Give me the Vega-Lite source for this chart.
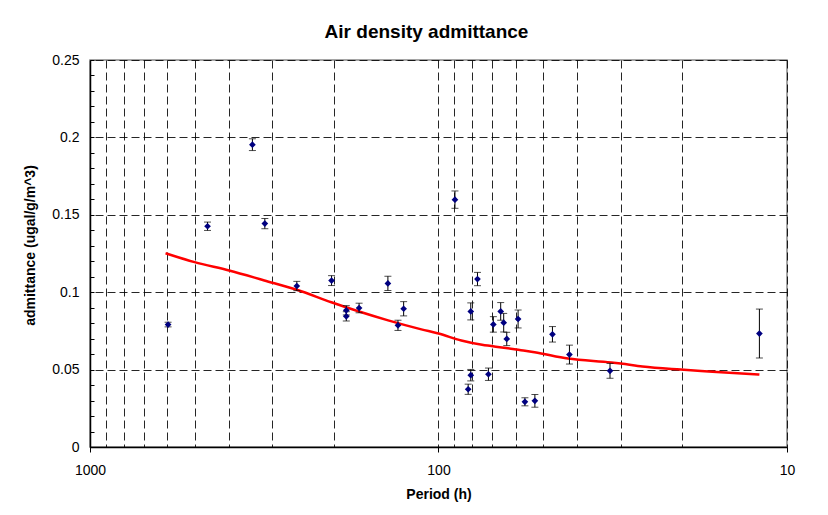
{
  "$schema": "https://vega.github.io/schema/vega-lite/v6.json",
  "autosize": {"type": "none"},
  "width": 697,
  "height": 387,
  "padding": {"left": 90, "top": 60, "right": 41, "bottom": 68},
  "background": "white",
  "config": {
    "font": "Liberation Sans",
    "view": {"stroke": "#888888", "strokeWidth": 1.5}
  },
  "title": {
    "text": "Air density admittance",
    "fontSize": 19,
    "fontWeight": "bold",
    "font": "Liberation Sans",
    "color": "black",
    "anchor": "middle",
    "frame": "group",
    "baseline": "alphabetic",
    "offset": 23,
    "dy": 27,
    "dx": -12
  },
  "datasets": {
    "pts": [
      {"period": 597, "adm": 0.0791, "err": 0.0015},
      {"period": 460, "adm": 0.1426, "err": 0.0027},
      {"period": 342, "adm": 0.1953, "err": 0.0038},
      {"period": 315, "adm": 0.1443, "err": 0.0033},
      {"period": 255, "adm": 0.1040, "err": 0.0030},
      {"period": 202.7, "adm": 0.1075, "err": 0.0032},
      {"period": 183.9, "adm": 0.0883, "err": 0.0030},
      {"period": 183.9, "adm": 0.0844, "err": 0.0030},
      {"period": 169.0, "adm": 0.0898, "err": 0.0031},
      {"period": 139.7, "adm": 0.1057, "err": 0.0046},
      {"period": 130.7, "adm": 0.0786, "err": 0.0033},
      {"period": 125.9, "adm": 0.0893, "err": 0.0046},
      {"period": 89.7, "adm": 0.1598, "err": 0.0056},
      {"period": 82.2, "adm": 0.0373, "err": 0.0033},
      {"period": 80.8, "adm": 0.0876, "err": 0.0055},
      {"period": 80.8, "adm": 0.0464, "err": 0.0037},
      {"period": 77.3, "adm": 0.1085, "err": 0.0043},
      {"period": 71.9, "adm": 0.0470, "err": 0.0040},
      {"period": 69.6, "adm": 0.0792, "err": 0.0050},
      {"period": 66.3, "adm": 0.0876, "err": 0.0057},
      {"period": 65.0, "adm": 0.0803, "err": 0.0060},
      {"period": 63.7, "adm": 0.0698, "err": 0.0043},
      {"period": 59.1, "adm": 0.0827, "err": 0.0058},
      {"period": 56.5, "adm": 0.0292, "err": 0.0026},
      {"period": 52.9, "adm": 0.0298, "err": 0.0041},
      {"period": 47.1, "adm": 0.0728, "err": 0.0050},
      {"period": 42.1, "adm": 0.0597, "err": 0.0061},
      {"period": 32.2, "adm": 0.0492, "err": 0.0048},
      {"period": 12.0, "adm": 0.0733, "err": 0.0158}
    ],
    "fit": [
      {"period": 607, "adm": 0.1252},
      {"period": 501, "adm": 0.1194},
      {"period": 399, "adm": 0.1140},
      {"period": 316, "adm": 0.1076},
      {"period": 255, "adm": 0.1016},
      {"period": 203, "adm": 0.0935},
      {"period": 169, "adm": 0.0875},
      {"period": 139.5, "adm": 0.0818},
      {"period": 112, "adm": 0.0760},
      {"period": 100, "adm": 0.0733},
      {"period": 86, "adm": 0.0688},
      {"period": 75, "adm": 0.0660},
      {"period": 64, "adm": 0.0640},
      {"period": 58, "adm": 0.0625},
      {"period": 53, "adm": 0.0612},
      {"period": 42.5, "adm": 0.0571},
      {"period": 32, "adm": 0.0546},
      {"period": 30, "adm": 0.0539},
      {"period": 26, "adm": 0.0520},
      {"period": 20.2, "adm": 0.0500},
      {"period": 16.8, "adm": 0.0488},
      {"period": 12, "adm": 0.0468}
    ]
  },
  "encoding": {
    "x": {
      "field": "period",
      "type": "quantitative",
      "scale": {"type": "log", "domain": [10, 1000], "reverse": true, "nice": false},
      "axis": {
        "title": "Period (h)",
        "titleFontSize": 14,
        "titleFontWeight": "bold",
        "titleColor": "black",
        "titleBaseline": "alphabetic",
        "titleY": 51,
        "values": [10, 20, 30, 40, 50, 60, 70, 80, 90, 100, 200, 300, 400, 500, 600, 700, 800, 900, 1000],
        "labelExpr": "datum.value == 10 || datum.value == 100 || datum.value == 1000 ? toString(datum.value) : ''",
        "labelFontSize": 14,
        "labelColor": "black",
        "labelPadding": 11,
        "labelFlush": false,
        "labelOverlap": false,
        "tickSize": 5,
        "tickColor": {"condition": {"test": "datum.value == 10 || datum.value == 100 || datum.value == 1000", "value": "black"}, "value": "transparent"},
        "domainColor": "black",
        "domainWidth": 1.5,
        "grid": true,
        "gridColor": "black",
        "gridDash": [8, 4],
        "gridWidth": 1,
        "gridOpacity": 0.85
      }
    },
    "y": {
      "field": "adm",
      "type": "quantitative",
      "scale": {"domain": [0, 0.25], "nice": false, "zero": true},
      "axis": {
        "title": "admittance (ugal/g/m^3)",
        "titleFontSize": 14,
        "titleFontWeight": "bold",
        "titleColor": "black",
        "titleBaseline": "alphabetic",
        "titleX": -55.5,
        "titleY": 185,
        "values": [0, 0.01, 0.02, 0.03, 0.04, 0.05, 0.06, 0.07, 0.08, 0.09, 0.1, 0.11, 0.12, 0.13, 0.14, 0.15, 0.16, 0.17, 0.18, 0.19, 0.2, 0.21, 0.22, 0.23, 0.24, 0.25],
        "labelExpr": "indexof([0, 0.05, 0.1, 0.15, 0.2, 0.25], datum.value) >= 0 ? toString(datum.value) : ''",
        "labelFontSize": 14,
        "labelColor": "black",
        "labelPadding": 15,
        "labelFlush": false,
        "labelOverlap": false,
        "tickSize": -4,
        "tickColor": "black",
        "domainColor": "black",
        "domainWidth": 1.5,
        "grid": true,
        "gridColor": "black",
        "gridDash": [8, 4],
        "gridWidth": 1,
        "gridOpacity": {"condition": {"test": "indexof([0, 0.05, 0.1, 0.15, 0.2, 0.25], datum.value) >= 0", "value": 0.85}, "value": 0}
      }
    }
  },
  "layer": [
    {
      "data": {"name": "fit"},
      "mark": {"type": "line", "color": "#ff0000", "strokeWidth": 2.5, "interpolate": "monotone"},
      "encoding": {}
    },
    {
      "data": {"name": "pts"},
      "mark": {"type": "errorbar", "ticks": {"size": 7, "color": "black", "strokeWidth": 1}, "rule": {"color": "black", "strokeWidth": 1}},
      "encoding": {
        "yError": {"field": "err"}
      }
    },
    {
      "data": {"name": "pts"},
      "mark": {"type": "point", "shape": "diamond", "filled": true, "color": "#000080", "size": 45, "opacity": 1},
      "encoding": {}
    }
  ]
}
